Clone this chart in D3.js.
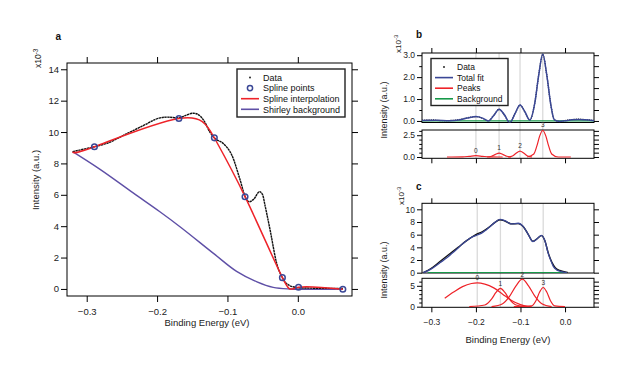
<!DOCTYPE html>
<html>
<head>
<meta charset="utf-8">
<script src="https://cdn.jsdelivr.net/npm/d3@7"></script>
<style>
  body { margin: 0; background: #fff; }
  svg { display: block; font-family: "Liberation Sans", Arial, sans-serif; }
</style>
</head>
<body>
<svg id="chart" width="625" height="382"></svg>
<script>
// Panel a : data, spline and Shirley background
const aData = [[-0.320, 8.75], [-0.305, 8.9], [-0.289, 9.06], [-0.27, 9.3], [-0.243, 9.9], [-0.22, 10.4],
  [-0.196, 10.9], [-0.185, 10.95], [-0.169, 10.9], [-0.16, 11.05], [-0.1485, 11.2], [-0.141, 11.1],
  [-0.133, 10.7], [-0.125, 10.0], [-0.118, 9.6], [-0.106, 9.27], [-0.094, 8.55], [-0.082, 6.95],
  [-0.075, 5.9], [-0.069, 5.56], [-0.062, 5.75], [-0.0545, 6.2], [-0.05, 6.0], [-0.0465, 5.3],
  [-0.0394, 3.76], [-0.030, 1.63], [-0.022, 0.72], [-0.012, 0.22], [0.001, 0.08], [0.02, 0.05],
  [0.04, 0.04], [0.064, 0.03]];
const aSplineStart = [-0.320, 8.75];
const aKnots = [[-0.289, 9.06], [-0.169, 10.86], [-0.1186, 9.63], [-0.075, 5.88], [-0.0219, 0.72],
  [0.001, 0.11], [0.064, -0.02]];
const aShirley = [[-0.320, 8.75], [-0.281, 7.62], [-0.234, 6.12], [-0.196, 4.92], [-0.167, 3.95],
  [-0.118, 2.2], [-0.087, 1.12], [-0.058, 0.45], [-0.035, 0.1], [-0.011, 0.0], [0.064, 0.0]];
const aYTicks = [0, 2, 4, 6, 8, 10, 12, 14];
const xTicks = [-0.3, -0.2, -0.1, 0.0];
const aLegend = ["Data", "Spline points", "Spline interpolation", "Shirley background"];

// Panel b : total fit of the second derivative, and its peaks
const bFit = [[-0.321, 0.02], [-0.29, 0.03], [-0.26, 0.01], [-0.235, 0.06], [-0.215, 0.15], [-0.2, 0.2],
  [-0.185, 0.13], [-0.172, 0.0], [-0.16, 0.25], [-0.148, 0.54], [-0.136, 0.28], [-0.124, -0.08],
  [-0.112, 0.35], [-0.101, 0.73], [-0.09, 0.42], [-0.079, 0.04], [-0.068, 0.8], [-0.059, 2.1],
  [-0.05, 3.05], [-0.041, 2.1], [-0.032, 0.75], [-0.024, 0.05], [-0.012, -0.02], [0.0, 0.01],
  [0.015, 0.05], [0.03, 0.07], [0.045, 0.05], [0.065, 0.01]];
const bData = [[-0.321, 0.03], [-0.3, 0.05], [-0.28, 0.02], [-0.26, 0.02], [-0.235, 0.07], [-0.215, 0.16],
  [-0.2, 0.19], [-0.185, 0.12], [-0.172, 0.01], [-0.16, 0.26], [-0.148, 0.53], [-0.136, 0.27],
  [-0.124, -0.07], [-0.112, 0.36], [-0.101, 0.72], [-0.09, 0.41], [-0.079, 0.05], [-0.068, 0.8],
  [-0.059, 2.1], [-0.05, 3.04], [-0.041, 2.1], [-0.032, 0.76], [-0.024, 0.06], [-0.012, -0.01],
  [0.0, 0.02], [0.015, 0.06], [0.03, 0.08], [0.045, 0.06], [0.065, 0.02]];
const bBackground = [[-0.321, 0], [0.065, 0]];
const bPeaks = [
  [[-0.265, 0], [-0.23, 0.02], [-0.215, 0.08], [-0.2, 0.15], [-0.185, 0.08], [-0.17, 0.02], [-0.14, 0]],
  [[-0.175, 0], [-0.165, 0.08], [-0.157, 0.27], [-0.148, 0.45], [-0.139, 0.27], [-0.131, 0.08], [-0.121, 0]],
  [[-0.128, 0], [-0.118, 0.12], [-0.11, 0.42], [-0.101, 0.68], [-0.092, 0.42], [-0.084, 0.12], [-0.074, 0]],
  [[-0.085, 0], [-0.07, 0.35], [-0.063, 1.3], [-0.057, 2.4], [-0.05, 3.05], [-0.043, 2.4], [-0.037, 1.3],
   [-0.03, 0.35], [-0.015, 0], [0.013, 0]]
];
const bCenters = [-0.2, -0.148, -0.101, -0.05];
const bTopTicks = [0, 1, 2, 3];
const bBotTicks = [0, 2.5];
const bLegend = ["Data", "Total fit", "Peaks", "Background"];

// Panel c : total fit of the spectrum, and its peaks
const cFit = [[-0.318, 0], [-0.3, 0.6], [-0.28, 1.6], [-0.266, 2.3], [-0.248, 3.4], [-0.229, 4.6],
  [-0.212, 5.5], [-0.199, 5.9], [-0.188, 6.2], [-0.177, 6.75], [-0.166, 7.4], [-0.158, 7.9],
  [-0.146, 8.4], [-0.135, 8.2], [-0.12, 7.7], [-0.105, 7.8], [-0.094, 7.3], [-0.083, 6.1],
  [-0.072, 4.9], [-0.062, 5.4], [-0.053, 5.9], [-0.045, 5.0], [-0.038, 3.1], [-0.03, 1.6],
  [-0.026, 0.95], [-0.018, 0.4], [-0.011, 0.2], [0.0, 0.05], [0.004, 0]];
const cData = [[-0.318, 0], [-0.3, 0.7], [-0.28, 1.8], [-0.26, 2.9], [-0.24, 4.0], [-0.22, 5.1],
  [-0.2, 6.0], [-0.185, 6.5], [-0.17, 7.2], [-0.158, 7.9], [-0.146, 8.35], [-0.135, 8.15],
  [-0.12, 7.7], [-0.105, 7.75], [-0.094, 7.3], [-0.083, 6.1], [-0.072, 4.95], [-0.062, 5.4],
  [-0.053, 5.85], [-0.045, 5.0], [-0.038, 3.2], [-0.03, 1.7], [-0.022, 0.8], [-0.012, 0.35],
  [0.0, 0.1], [0.006, 0.05]];
const cBackground = [[-0.308, 0], [0.004, 0]];
const cPeaks = [
  [[-0.27, 2.0], [-0.25, 3.5], [-0.23, 4.8], [-0.21, 5.55], [-0.197, 5.7], [-0.18, 5.4], [-0.16, 4.5],
   [-0.14, 3.0], [-0.12, 1.5], [-0.1, 0.5], [-0.085, 0.1], [-0.075, 0]],
  [[-0.215, 0], [-0.18, 0.4], [-0.165, 1.8], [-0.155, 3.4], [-0.145, 4.4], [-0.135, 3.4], [-0.125, 1.8],
   [-0.11, 0.4], [-0.085, 0]],
  [[-0.165, 0], [-0.14, 0.7], [-0.125, 2.4], [-0.11, 5.0], [-0.096, 6.6], [-0.082, 5.0], [-0.067, 2.4],
   [-0.052, 0.7], [-0.03, 0]],
  [[-0.115, 0], [-0.075, 0.2], [-0.065, 1.5], [-0.057, 3.5], [-0.049, 4.6], [-0.041, 3.5], [-0.033, 1.5],
   [-0.023, 0.2], [0.0, 0]]
];
const cCenters = [-0.197, -0.145, -0.096, -0.049];
const cTopTicks = [0, 2, 4, 6, 8, 10];
const cBotTicks = [0, 5];

const RED = "#ee2329", BLUE = "#3a4796", PURPLE = "#5e4fa6", GREEN = "#17994a", GRID = "#dadada";

const svg = d3.select("#chart");

// scales
const xa = d3.scaleLinear().domain([-0.328, 0.077]).range([67, 352]);
const ya = d3.scaleLinear().domain([-0.45, 14.4]).range([296, 63]);
const xb = d3.scaleLinear().domain([-0.321, 0.065]).range([422, 594]);
const ybTop = d3.scaleLinear().domain([-0.07, 3.1]).range([122.5, 53]);
const ybBot = d3.scaleLinear().domain([-0.15, 3.1]).range([158.3, 130]);
const ycTop = d3.scaleLinear().domain([-0.05, 10.95]).range([273, 203.3]);
const ycBot = d3.scaleLinear().domain([-0.15, 6.8]).range([307.3, 278.3]);

function styleAxis(g, size) {
  g.select(".domain").remove();
  g.selectAll("line").attr("stroke", "#000");
  g.selectAll("text").attr("font-family", "Liberation Sans, Arial, sans-serif")
    .attr("font-size", size).attr("fill", "#222");
}

// draws the box and the ticks on every side of it
function box(x, y, o) {
  const [x0, x1] = x.range(), [y0, y1] = y.range();
  const g = svg.append("g");
  const fs = o.fontSize;
  g.append("g").attr("transform", `translate(${x0},0)`)
    .call(d3.axisLeft(y).tickValues(o.yTicks).tickSize(o.tick).tickPadding(2)
      .tickFormat(o.yFormat))
    .call(a => styleAxis(a, fs));
  if (o.yMinor) {
    g.append("g").attr("transform", `translate(${x0},0)`)
      .call(d3.axisLeft(y).tickValues(o.yMinor).tickSize(o.tick * 0.55).tickFormat(""))
      .call(a => styleAxis(a, fs));
  }
  g.append("g").attr("transform", `translate(${x1},0)`)
    .call(d3.axisRight(y).tickValues(o.yRight || o.yTicks).tickSize(o.tick).tickFormat(""))
    .call(a => styleAxis(a, fs));
  if (o.top) {
    g.append("g").attr("transform", `translate(0,${y1})`)
      .call(d3.axisTop(x).tickValues(xTicks).tickSize(o.tick).tickFormat(""))
      .call(a => styleAxis(a, fs));
  }
  if (o.bottom) {
    g.append("g").attr("transform", `translate(0,${y0})`)
      .call(d3.axisBottom(x).tickValues(xTicks).tickSize(o.tick).tickPadding(o.xPad)
        .tickFormat(o.xLabels ? d3.format(".1f") : ""))
      .call(a => styleAxis(a, fs));
  }
  g.append("rect").attr("x", x0).attr("y", y1).attr("width", x1 - x0).attr("height", y0 - y1)
    .attr("fill", "none").attr("stroke", "#000").attr("stroke-width", 1);
}

function clipFor(id, x, y) {
  const [x0, x1] = x.range(), [y0, y1] = y.range();
  svg.append("clipPath").attr("id", id).append("rect")
    .attr("x", x0).attr("y", y1).attr("width", x1 - x0).attr("height", y0 - y1);
  return svg.append("g").attr("clip-path", `url(#${id})`);
}

function path(g, data, x, y, color, width, curve, dash) {
  g.append("path").datum(data)
    .attr("d", d3.line().x(d => x(d[0])).y(d => y(d[1])).curve(curve || d3.curveMonotoneX))
    .attr("fill", "none").attr("stroke", color).attr("stroke-width", width)
    .attr("stroke-dasharray", dash || null);
}

function yTitle(cx, cy, size) {
  svg.append("text").attr("transform", `translate(${cx},${cy}) rotate(-90)`)
    .attr("text-anchor", "middle").attr("font-size", size).attr("fill", "#222")
    .text("Intensity (a.u.)");
}
function expo(cx, bottomY, size) {
  const t = svg.append("text").attr("transform", `translate(${cx},${bottomY}) rotate(-90)`)
    .attr("font-size", size).attr("fill", "#222");
  t.append("tspan").text("x10");
  t.append("tspan").attr("dy", -size * 0.4).attr("font-size", size * 0.75).text("-3");
}
function panelLabel(x, y, s) {
  svg.append("text").attr("x", x).attr("y", y).attr("font-size", 10).attr("font-weight", "bold")
    .attr("fill", "#111").text(s);
}

function legend(x, y, w, h, rows, rowH, fs, symbols) {
  const g = svg.append("g");
  g.append("rect").attr("x", x).attr("y", y).attr("width", w).attr("height", h)
    .attr("fill", "#fff").attr("stroke", "#222").attr("stroke-width", 1.4);
  rows.forEach((r, i) => {
    const cy = y + 8.5 + i * rowH;
    symbols[i](g, x + 4, x + 22, cy);
    g.append("text").attr("x", x + 26).attr("y", cy + fs * 0.36).attr("font-size", fs)
      .attr("fill", "#111").text(r);
  });
}
const symDot = (g, a, b, cy) => g.append("circle").attr("cx", (a + b) / 2).attr("cy", cy).attr("r", 0.9).attr("fill", "#111");
const symCircle = (g, a, b, cy) => g.append("circle").attr("cx", (a + b) / 2).attr("cy", cy).attr("r", 2.6)
  .attr("fill", "none").attr("stroke", BLUE).attr("stroke-width", 1.5);
const symLine = c => (g, a, b, cy) => g.append("line").attr("x1", a).attr("x2", b).attr("y1", cy).attr("y2", cy)
  .attr("stroke", c).attr("stroke-width", 1.6);

// ---------- panel a ----------
box(xa, ya, { yTicks: aYTicks, tick: 6, fontSize: 9.5, yFormat: d3.format("d"), top: true, bottom: true,
  xLabels: true, xPad: 6 });
const ga = clipFor("clipA", xa, ya);
path(ga, aShirley, xa, ya, PURPLE, 1.4, d3.curveCatmullRom);
path(ga, aData, xa, ya, "#111", 1.4, d3.curveMonotoneX, "2.4,0.5");
path(ga, [aSplineStart].concat(aKnots), xa, ya, RED, 1.5, d3.curveNatural);
ga.selectAll("circle.knot").data(aKnots).join("circle").attr("class", "knot")
  .attr("cx", d => xa(d[0])).attr("cy", d => ya(d[1])).attr("r", 2.8)
  .attr("fill", "none").attr("stroke", BLUE).attr("stroke-width", 1.5);
legend(237, 69, 108, 48, aLegend, 10.6, 9, [symDot, symCircle, symLine(RED), symLine(PURPLE)]);
svg.append("text").attr("x", 207).attr("y", 326).attr("text-anchor", "middle").attr("font-size", 9.5)
  .attr("fill", "#222").text("Binding Energy (eV)");
yTitle(39, 180, 9.5);
expo(41, 68, 8.5);
panelLabel(55.5, 39.5, "a");

// ---------- panel b ----------
const gridB = svg.append("g");
bCenters.forEach(c => gridB.append("line").attr("x1", xb(c)).attr("x2", xb(c))
  .attr("y1", ybTop.range()[1]).attr("y2", ybBot.range()[0]).attr("stroke", GRID).attr("stroke-width", 1.3));
box(xb, ybTop, { yTicks: bTopTicks, yMinor: [0.5, 1.5, 2.5], yRight: d3.range(0, 3.01, 0.5), tick: 5,
  fontSize: 8.5, yFormat: d3.format(".1f"), top: true });
box(xb, ybBot, { yTicks: bBotTicks, yMinor: [0.5, 1, 1.5, 2, 3], yRight: d3.range(0, 3.01, 0.5), tick: 5,
  fontSize: 8.5, yFormat: d3.format(".1f"), bottom: true, xLabels: false, xPad: 3 });
const gbT = clipFor("clipBT", xb, ybTop);
path(gbT, bData, xb, ybTop, "#111", 1.3, d3.curveMonotoneX, "1,1.2");
path(gbT, bBackground, xb, ybTop, GREEN, 1.3, d3.curveLinear);
path(gbT, bFit, xb, ybTop, BLUE, 1.5);
const gbB = clipFor("clipBB", xb, ybBot);
bPeaks.forEach(p => path(gbB, p, xb, ybBot, RED, 1.2));
bPeaks.forEach((p, i) => svg.append("text").attr("x", xb(bCenters[i])).attr("y", ybBot(d3.max(p, d => d[1])) - 3)
  .attr("text-anchor", "middle").attr("font-size", 6.5).attr("fill", "#333").text(i));
legend(431, 58.5, 77, 47, bLegend, 10.6, 8.5, [symDot, symLine(BLUE), symLine(RED), symLine(GREEN)]);
yTitle(387, 110, 9);
expo(401, 53, 8);
panelLabel(416, 37.5, "b");

// ---------- panel c ----------
const gridC = svg.append("g");
cCenters.forEach(c => gridC.append("line").attr("x1", xb(c)).attr("x2", xb(c))
  .attr("y1", ycTop.range()[1]).attr("y2", ycBot.range()[0]).attr("stroke", GRID).attr("stroke-width", 1.3));
box(xb, ycTop, { yTicks: cTopTicks, tick: 5, fontSize: 8.5, yFormat: d3.format("d"), top: true });
box(xb, ycBot, { yTicks: cBotTicks, yMinor: [1, 2, 3, 4, 6], yRight: d3.range(0, 6.01, 1), tick: 5,
  fontSize: 8.5, yFormat: d3.format("d"), bottom: true, xLabels: true, xPad: 7 });
const gcT = clipFor("clipCT", xb, ycTop);
path(gcT, cData, xb, ycTop, "#111", 1.4);
path(gcT, cBackground, xb, ycTop, GREEN, 1.3, d3.curveLinear);
path(gcT, cFit, xb, ycTop, BLUE, 1.3);
const gcB = clipFor("clipCB", xb, ycBot);
cPeaks.forEach(p => path(gcB, p, xb, ycBot, RED, 1.2));
cPeaks.forEach((p, i) => svg.append("text").attr("x", xb(cCenters[i])).attr("y", ycBot(d3.max(p, d => d[1])) - 2.5)
  .attr("text-anchor", "middle").attr("font-size", 6.5).attr("fill", "#333").text(i));
svg.append("text").attr("x", 508).attr("y", 343).attr("text-anchor", "middle").attr("font-size", 9.5)
  .attr("fill", "#222").text("Binding Energy (eV)");
yTitle(387, 270, 9);
expo(404, 205, 8);
panelLabel(416, 190, "c");
</script>
</body>
</html>
